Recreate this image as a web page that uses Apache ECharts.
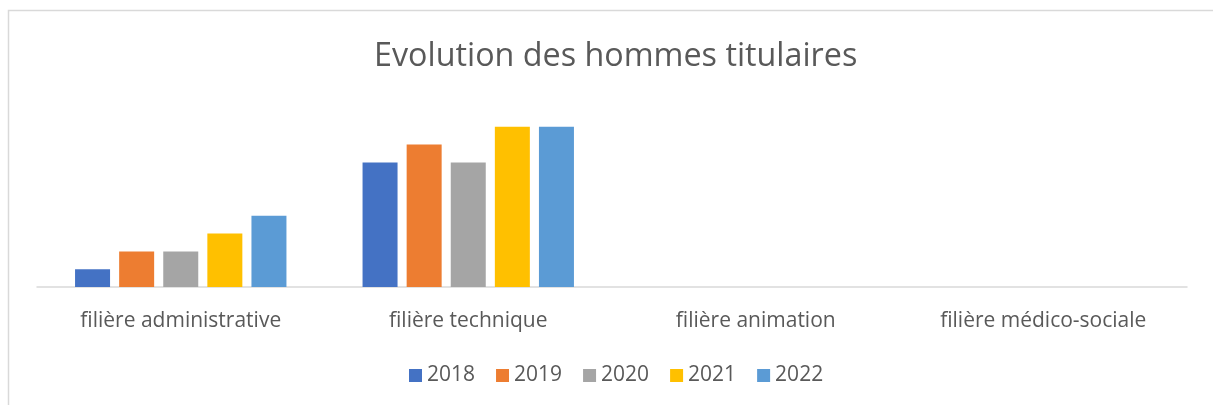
<!DOCTYPE html>
<html>
<head>
<meta charset="utf-8">
<script src="https://cdn.jsdelivr.net/npm/echarts@6/dist/echarts.min.js"></script>
<style>
  html, body { margin: 0; padding: 0; background: #fff; }
  #container { width: 1213px; height: 405px; }
</style>
</head>
<body>
<div id="container"></div>
<script>
var categories = ['filière administrative', 'filière technique', 'filière animation', 'filière médico-sociale'];
var years = ['2018', '2019', '2020', '2021', '2022'];
var v2018 = [1, 7, 0, 0];
var v2019 = [2, 8, 0, 0];
var v2020 = [2, 7, 0, 0];
var v2021 = [3, 9, 0, 0];
var v2022 = [4, 9, 0, 0];
var colors = ['#4472c4', '#ed7d31', '#a5a5a5', '#ffc000', '#5b9bd5'];

(function(){
    var dom = document.getElementById("container");
    var myChart = echarts.init(dom);
    var values = [v2018, v2019, v2020, v2021, v2022];
    var series = [];
    for (var i = 0; i < years.length; i++) {
        series.push({
            name: years[i],
            type: 'bar',
            data: values[i],
            barWidth: 35,
            barGap: '26%',
            itemStyle: { color: colors[i] }
        });
    }
    var option = {
        animation: false,
        color: colors,
        title: {
            text: 'Evolution des hommes titulaires',
            left: 369,
            top: 36,
            textStyle: {
                fontFamily: 'Open Sans',
                fontSize: 32.3,
                fontWeight: 'normal',
                color: '#595959'
            }
        },
        legend: {
            data: years,
            top: 360,
            left: 404,
            itemWidth: 13,
            itemHeight: 13,
            itemGap: 21,
            icon: 'rect',
            textStyle: {
                fontFamily: 'Open Sans',
                fontSize: 21,
                color: '#595959'
            }
        },
        grid: {
            left: 37,
            right: 26,
            top: 109,
            bottom: 118
        },
        xAxis: {
            type: 'category',
            data: categories,
            axisLine: { lineStyle: { color: '#d9d9d9', width: 1.5 } },
            axisTick: { show: false },
            axisLabel: {
                margin: 24,
                fontFamily: 'Open Sans',
                fontSize: 21,
                color: '#595959'
            }
        },
        yAxis: {
            type: 'value',
            min: 0,
            max: 10,
            show: false,
            splitLine: { show: false }
        },
        graphic: [{
            type: 'rect',
            shape: { x: 8.5, y: 10.5, width: 1400, height: 600 },
            style: { fill: null, stroke: '#d9d9d9', lineWidth: 1.5 },
            silent: true
        }],
        series: series
    };
    myChart.setOption(option, true);
})();
</script>
</body>
</html>
